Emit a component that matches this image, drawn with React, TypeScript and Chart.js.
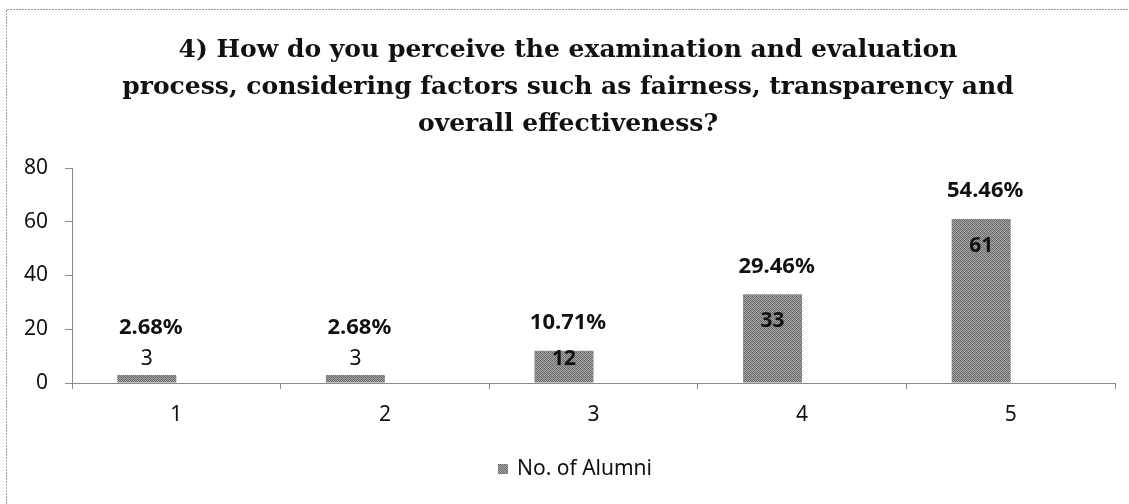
import React, { useEffect, useRef } from "react";
import { Chart, registerables } from "chart.js";

Chart.register(...registerables);

const TITLE_LINES = [
  "4) How do you perceive the examination and evaluation",
  "process, considering factors such as fairness, transparency and",
  "overall effectiveness?",
];
const CATEGORIES = ["1", "2", "3", "4", "5"];
const ALUMNI_COUNTS = [3, 3, 12, 33, 61];
const PERCENT_LABELS = ["2.68%", "2.68%", "10.71%", "29.46%", "54.46%"];
const PERCENT_VALUES = [0.0268, 0.0268, 0.1071, 0.2946, 0.5446];
const SERIES_NAME = "No. of Alumni";
const Y_TICKS = [0, 20, 40, 60, 80];

const SANS = "'Noto Sans', 'Open Sans', sans-serif";
const SERIF = "'DejaVu Serif', 'Liberation Serif', serif";

function makePattern(): CanvasPattern | string {
  const c = document.createElement("canvas");
  c.width = 4;
  c.height = 4;
  const g = c.getContext("2d");
  if (!g) return "#858585";
  const shades = [
    ["#606060", "#acacac", "#727272", "#a0a0a0"],
    ["#9c9c9c", "#6c6c6c", "#a8a8a8", "#646464"],
    ["#747474", "#a2a2a2", "#686868", "#aaaaaa"],
    ["#aeaeae", "#6a6a6a", "#9e9e9e", "#707070"],
  ];
  for (let y = 0; y < 4; y++)
    for (let x = 0; x < 4; x++) {
      g.fillStyle = shades[y][x];
      g.fillRect(x, y, 1, 1);
    }
  const p = g.createPattern(c, "repeat");
  return p || "#858585";
}

const decorPlugin = {
  id: "decor",
  afterDraw(chart: any) {
    const ctx = chart.ctx as CanvasRenderingContext2D;
    const { width } = chart;
    ctx.save();
    // frame
    ctx.strokeStyle = "#9a9a9a";
    ctx.lineWidth = 1;
    ctx.setLineDash([2, 1]);
    ctx.beginPath();
    ctx.moveTo(6.5, chart.height);
    ctx.lineTo(6.5, 9.5);
    ctx.lineTo(width, 9.5);
    ctx.stroke();
    ctx.setLineDash([]);

    // title
    ctx.fillStyle = "#111";
    ctx.font = `bold 25px ${SERIF}`;
    ctx.textAlign = "center";
    ctx.textBaseline = "alphabetic";
    TITLE_LINES.forEach((line, i) => {
      ctx.fillText(line, 568, 57 + i * 37);
    });

    // data labels
    const meta = chart.getDatasetMeta(0);
    const base = chart.scales.y.getPixelForValue(0);
    meta.data.forEach((bar: any, i: number) => {
      const top = bar.y;
      const cx = bar.x;
      const countY = Math.min(top + 27, base - 24);
      const inside = countY > top;
      ctx.font = `${inside ? "bold " : ""}21px ${SANS}`;
      ctx.textBaseline = "middle";
      ctx.fillStyle = "#111";
      ctx.fillText(String(ALUMNI_COUNTS[i]), cx, countY);
      const pctY = Math.min(top - 28, countY - 31);
      ctx.font = `bold 22px ${SANS}`;
      ctx.fillText(PERCENT_LABELS[i], cx + 4, pctY);
    });

    // legend
    const pattern = chart.data.datasets[0].backgroundColor;
    ctx.fillStyle = pattern;
    ctx.fillRect(498, 464, 10, 10);
    ctx.fillStyle = "#111";
    ctx.font = `21px ${SANS}`;
    ctx.textAlign = "left";
    ctx.textBaseline = "middle";
    ctx.fillText(SERIES_NAME, 517, 469);
    ctx.restore();
  },
};

export default function App() {
  const ref = useRef<HTMLCanvasElement | null>(null);
  useEffect(() => {
    document.body.style.margin = "0";
    const canvas = ref.current;
    if (!canvas) return;
    const fill = makePattern();
    const chart = new Chart(canvas, {
      type: "bar",
      data: {
        labels: CATEGORIES,
        datasets: [
          {
            label: SERIES_NAME,
            data: ALUMNI_COUNTS,
            backgroundColor: fill as any,
            borderWidth: 0,
            categoryPercentage: 0.566,
            barPercentage: 1,
          },
          {
            label: "Percentage",
            data: PERCENT_VALUES,
            backgroundColor: "rgba(0,0,0,0)",
            borderWidth: 0,
            categoryPercentage: 0.566,
            barPercentage: 1,
          },
        ],
      },
      options: {
        animation: false,
        responsive: true,
        maintainAspectRatio: false,
        layout: { padding: { left: 0, right: 14, top: 168, bottom: 0 } },
        plugins: {
          legend: { display: false },
          title: { display: false },
          tooltip: { enabled: false },
        },
        scales: {
          x: {
            offset: true,
            grid: {
              offset: true,
              drawOnChartArea: false,
              drawTicks: true,
              tickLength: 6,
              color: "#8a8a8a",
            },
            border: { display: true, color: "#8a8a8a" },
            ticks: {
              color: "#111",
              font: { family: SANS, size: 21 },
              padding: 13,
            },
            afterFit(scale: any) {
              scale.height = 121;
            },
          },
          y: {
            min: 0,
            max: 80,
            afterBuildTicks(scale: any) {
              scale.ticks = Y_TICKS.map((v) => ({ value: v }));
            },
            grid: {
              drawOnChartArea: false,
              drawTicks: true,
              tickLength: 7,
              color: "#8a8a8a",
            },
            border: { display: true, color: "#8a8a8a" },
            ticks: {
              color: "#111",
              font: { family: SANS, size: 21 },
              padding: 17,
            },
            afterFit(scale: any) {
              scale.width = 72;
            },
          },
        },
      },
      plugins: [decorPlugin],
    });
    return () => chart.destroy();
  }, []);
  return (
    <div style={{ width: 1129, height: 504, position: "relative" }}>
      <canvas ref={ref} />
    </div>
  );
}
